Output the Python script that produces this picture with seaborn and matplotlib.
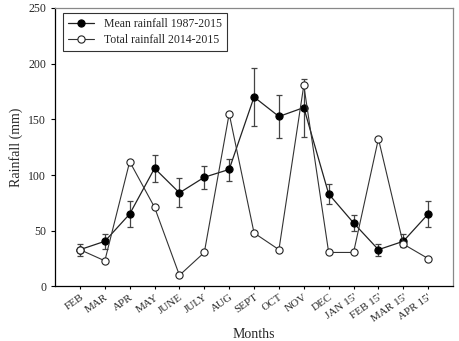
import numpy as np
import pandas as pd
import matplotlib
matplotlib.use('Agg')
import matplotlib.pyplot as plt
import seaborn as sns

# Data
months = ['FEB', 'MAR', 'APR', 'MAY', 'JUNE', 'JULY', 'AUG', 'SEPT', 'OCT', 'NOV',
          'DEC', "JAN 15'", "FEB 15'", "MAR 15'", "APR 15'"]
mean_rain = [33, 40.5, 65, 106, 84, 98, 105, 170, 152.5, 160.5, 83, 57, 33, 40.5, 65]
mean_lo = [27, 34, 53, 94, 71, 87.5, 95, 144, 133, 134, 74, 50, 27, 35, 53]
mean_hi = [38.5, 47.5, 76.5, 118, 97, 108, 114, 196, 172, 186, 92, 64.5, 38, 47, 76.5]
total_rain = [33, 23, 112, 71, 10, 30.5, 155, 48, 33, 180.5, 30.5, 30.5, 132.5, 38, 25]

df = pd.DataFrame({'pos': np.arange(len(months)), 'mean': mean_rain, 'total': total_rain})
yerr = [np.array(mean_rain) - np.array(mean_lo), np.array(mean_hi) - np.array(mean_rain)]

sns.set_style('ticks')
plt.rcParams['font.family'] = ['Liberation Serif', 'DejaVu Serif']

fig, ax = plt.subplots(figsize=(4.59, 3.41), dpi=100)

ax.errorbar(df['pos'], df['mean'], yerr=yerr, fmt='none', ecolor='#444444',
            elinewidth=0.9, capsize=2.5, capthick=0.9, zorder=2)
sns.lineplot(data=df, x='pos', y='mean', ax=ax, color='#222222', linewidth=0.9,
             marker='o', markersize=5.2, markerfacecolor='black', markeredgecolor='black',
             label='Mean rainfall 1987-2015', zorder=3)
sns.lineplot(data=df, x='pos', y='total', ax=ax, color='#333333', linewidth=0.8,
             marker='o', markersize=5.2, markerfacecolor='white', markeredgecolor='#222222',
             markeredgewidth=0.8, label='Total rainfall 2014-2015', zorder=4)

ax.set_xlim(-1, 15)
ax.set_ylim(0, 250)
ax.set_yticks([0, 50, 100, 150, 200, 250])
ax.set_xticks(df['pos'])
ax.set_xticklabels(months, rotation=35, ha='right', rotation_mode='anchor', fontsize=8)
ax.tick_params(axis='y', labelsize=8.5, length=3, width=0.8, color='black')
ax.tick_params(axis='x', length=2.5, width=0.8, color='black', pad=2)
ax.set_xlabel('Months', fontsize=10, labelpad=3)
ax.set_ylabel('Rainfall (mm)', fontsize=10)

for s in ['left', 'bottom']:
    ax.spines[s].set_color('black')
    ax.spines[s].set_linewidth(0.9)
for s in ['top', 'right']:
    ax.spines[s].set_visible(True)
    ax.spines[s].set_color('#888888')
    ax.spines[s].set_linewidth(0.9)

leg = ax.legend(loc='upper left', fontsize=8.5, frameon=True, fancybox=False,
                edgecolor='black', handlelength=2.2, borderpad=0.45, labelspacing=0.3,
                borderaxespad=0, bbox_to_anchor=(0.02, 0.982))
leg.get_frame().set_linewidth(0.8)

fig.subplots_adjust(left=0.12, right=0.987, top=0.977, bottom=0.16)
fig.savefig('out.png', dpi=100)
plt.close()
